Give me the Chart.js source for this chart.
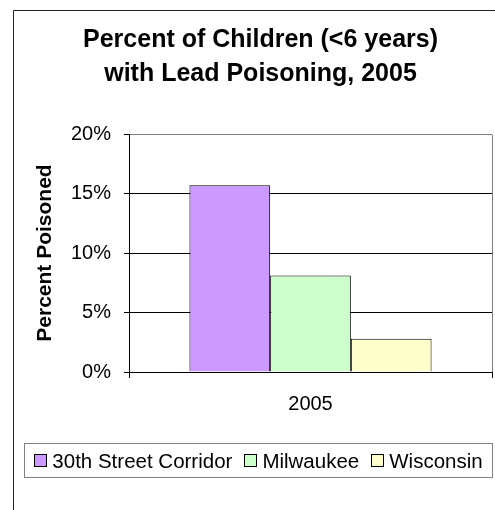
<!DOCTYPE html>
<html lang="en">
<head>
  <meta charset="UTF-8" />
  <title>Percent of Children with Lead Poisoning, 2005</title>
  <script src="https://cdn.jsdelivr.net/npm/chart.js"></script>
  <style>
    body {
      margin: 0;
      background: #fff;
      font-family: 'Liberation Sans', Arial, sans-serif;
    }

    #wrap {
      position: relative;
      width: 495px;
      height: 510px;
    }

    #legend {
      position: absolute;
      left: 24px;
      top: 443px;
      width: 469px;
      height: 35px;
      box-sizing: border-box;
      border: 1px solid #808080;
      display: flex;
      align-items: center;
      justify-content: center;
      gap: 12px;
      font-size: 20.5px;
      color: #000;
      white-space: nowrap;
    }

    #legend .item {
      display: flex;
      align-items: center;
    }

    #legend .swatch {
      width: 11px;
      height: 11px;
      border: 1px solid #000;
      margin-right: 5px;
    }
  </style>
</head>
<body>

<div id="wrap">
  <canvas id="leadChart" width="495" height="510"></canvas>
  <div id="legend"></div>
</div>

<script>
  const years = ['2005'];
  const areas = ['30th Street Corridor', 'Milwaukee', 'Wisconsin'];
  const corridorPct = [15.7];
  const milwaukeePct = [8.1];
  const wisconsinPct = [2.8];
  const yTicks = [0, 5, 10, 15, 20];

  const fills = ['#CC99FF', '#CCFFCC', '#FFFFCC'];
  const series = [corridorPct, milwaukeePct, wisconsinPct];

  // frame of the whole chart + grey right edge of the plot
  const framePlugin = {
    id: 'frame',
    beforeDraw(chart) {
      const ctx = chart.ctx;
      ctx.save();
      ctx.fillStyle = '#fff';
      ctx.fillRect(0, 0, chart.width, chart.height);
      ctx.strokeStyle = '#222';
      ctx.lineWidth = 1;
      ctx.beginPath();
      ctx.moveTo(13.5, chart.height);
      ctx.lineTo(13.5, 10.5);
      ctx.lineTo(chart.width, 10.5);
      ctx.stroke();
      ctx.restore();
    },
    afterDatasetsDraw(chart) {
      const a = chart.chartArea;
      const ctx = chart.ctx;
      ctx.save();
      ctx.strokeStyle = '#808080';
      ctx.lineWidth = 1;
      ctx.beginPath();
      ctx.moveTo(Math.round(a.right) + 0.5, Math.round(a.bottom));
      ctx.lineTo(Math.round(a.right) + 0.5, Math.round(a.top) + 0.5);
      ctx.stroke();
      ctx.restore();
    }
  };

  const ctx = document.getElementById('leadChart').getContext('2d');
  const chart = new Chart(ctx, {
    type: 'bar',
    data: {
      labels: years,
      datasets: areas.map((name, i) => ({
        label: name,
        data: series[i],
        backgroundColor: fills[i],
        borderColor: '#000',
        borderWidth: 1,
        categoryPercentage: 0.667,
        barPercentage: 1.0
      }))
    },
    options: {
      responsive: false,
      animation: false,
      layout: {
        padding: { top: 10, left: 29, right: 3, bottom: 0 }
      },
      plugins: {
        legend: { display: false },
        tooltip: { enabled: false },
        title: {
          display: true,
          text: ['Percent of Children (<6 years)', 'with Lead Poisoning, 2005'],
          color: '#000',
          font: { family: "'Liberation Sans', Arial, sans-serif", size: 25, weight: 'bold', lineHeight: 34 / 25 },
          padding: { top: 13, bottom: 43 }
        }
      },
      scales: {
        x: {
          afterFit(scale) { scale.height = 138; },
          grid: {
            drawOnChartArea: false,
            color: '#000',
            tickLength: 6
          },
          border: { color: '#000' },
          ticks: {
            color: '#000',
            padding: 14,
            font: { family: "'Liberation Sans', Arial, sans-serif", size: 20 }
          }
        },
        y: {
          min: 0,
          max: 20,
          afterFit(scale) { scale.width = 100; },
          afterBuildTicks(scale) {
            scale.ticks = yTicks.map(v => ({ value: v }));
          },
          grid: {
            color: c => (c.tick && c.tick.value === 20 ? '#808080' : '#000'),
            tickColor: '#000',
            tickLength: 5
          },
          border: { color: '#000' },
          ticks: {
            color: '#000',
            padding: 13,
            font: { family: "'Liberation Sans', Arial, sans-serif", size: 20 },
            callback: v => v + '%'
          },
          title: {
            display: true,
            text: 'Percent Poisoned',
            color: '#000',
            padding: { top: 4, bottom: 0 },
            font: { family: "'Liberation Sans', Arial, sans-serif", size: 21, weight: 'bold' }
          }
        }
      }
    },
    plugins: [framePlugin]
  });

  // legend box below the axis, built from the datasets
  const legendEl = document.getElementById('legend');
  chart.data.datasets.forEach(ds => {
    const item = document.createElement('span');
    item.className = 'item';
    const sw = document.createElement('span');
    sw.className = 'swatch';
    sw.style.background = ds.backgroundColor;
    const txt = document.createElement('span');
    txt.textContent = ds.label;
    item.appendChild(sw);
    item.appendChild(txt);
    legendEl.appendChild(item);
  });
</script>

</body>
</html>
